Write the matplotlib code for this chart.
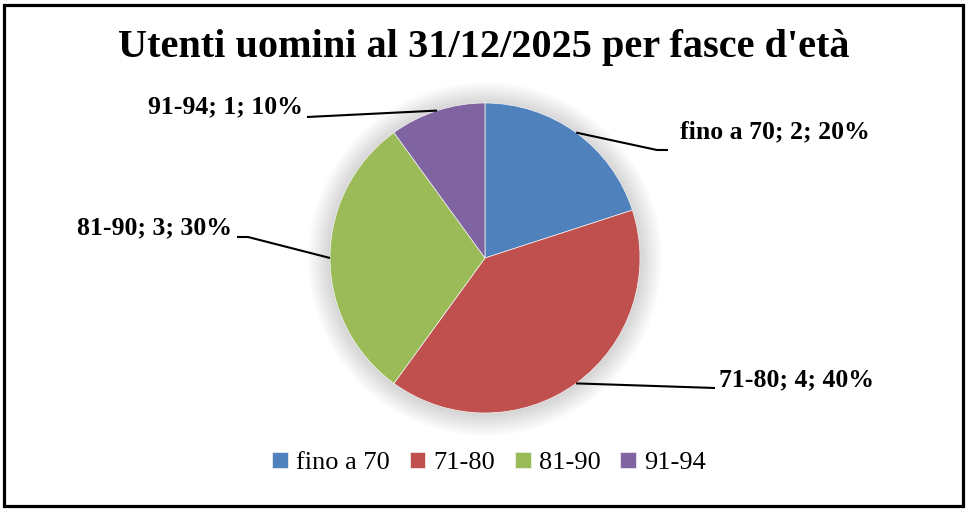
import numpy as np
import matplotlib
matplotlib.use("Agg")
import matplotlib.pyplot as plt
from matplotlib.patches import Rectangle, Circle

categories = ["fino a 70", "71-80", "81-90", "91-94"]
values = [2, 4, 3, 1]
percents = ["20%", "40%", "30%", "10%"]
colors = ["#4F81BD", "#C0504D", "#9BBB59", "#8064A2"]
title = "Utenti uomini al 31/12/2025 per fasce d'età"

W, H = 966, 509
fig = plt.figure(figsize=(W / 100, H / 100), dpi=100)
ax = fig.add_axes([0, 0, 1, 1])
ax.set_xlim(0, W)
ax.set_ylim(0, H)
ax.set_aspect("equal")
ax.axis("off")

serif = ["Liberation Serif", "DejaVu Serif"]

cx, cy, R = 485, H - 258, 155

# soft shadow
for i in range(14):
    r = R + 22 - i * 1.6
    ax.add_patch(Circle((cx, cy - 1), r, color="#000000", alpha=0.011, lw=0, zorder=1))

wedges, _ = ax.pie(values, colors=colors, startangle=90, counterclock=False,
                   center=(cx, cy), radius=R, frame=True,
                   wedgeprops=dict(linewidth=0.5, edgecolor="#f4f4f4", zorder=3))
ax.set_xlim(0, W)
ax.set_ylim(0, H)
ax.axis("off")

# label layout (text anchor, ha, bend/end points) in pixel coords
layout = [
    dict(txt=(680, 132), ha="left", path=[(657, 150), (668, 150)]),
    dict(txt=(719, 380), ha="left", path=[(715, 388)]),
    dict(txt=(232, 228), ha="right", path=[(248, 237), (237, 237)]),
    dict(txt=(303, 107), ha="right", path=[(307, 117)]),
]
for w, cat, v, p, L in zip(wedges, categories, values, percents, layout):
    ang = np.deg2rad((w.theta1 + w.theta2) / 2)
    x0, y0 = cx + R * np.cos(ang), cy + R * np.sin(ang)
    xs = [x0] + [q[0] for q in L["path"]]
    ys = [y0] + [H - q[1] for q in L["path"]]
    ax.plot(xs, ys, color="black", lw=1.5, zorder=4, solid_capstyle="butt")
    ax.text(L["txt"][0], H - L["txt"][1], f"{cat}; {v}; {p}", ha=L["ha"], va="center",
            fontsize=18.5, fontweight="bold", family=serif, zorder=5)

ax.text(W / 2 + 1, H - 47, title, ha="center", va="center", fontsize=29,
        fontweight="bold", family=serif)

leg = ax.legend(wedges, categories, loc="center", bbox_to_anchor=(489 / W, 1 - 463 / H),
                ncol=4, frameon=False, handlelength=0.6, handleheight=0.6,
                handletextpad=0.3, columnspacing=0.75,
                prop=dict(family=serif, size=19))

fig.patches.append(Rectangle((3.5 / W, 1 - 506 / H), (963 - 3.5) / W, (506 - 4.5) / H,
                             transform=fig.transFigure, fill=False, edgecolor="black",
                             lw=2.3, zorder=10))

fig.savefig("out.png", dpi=100)
